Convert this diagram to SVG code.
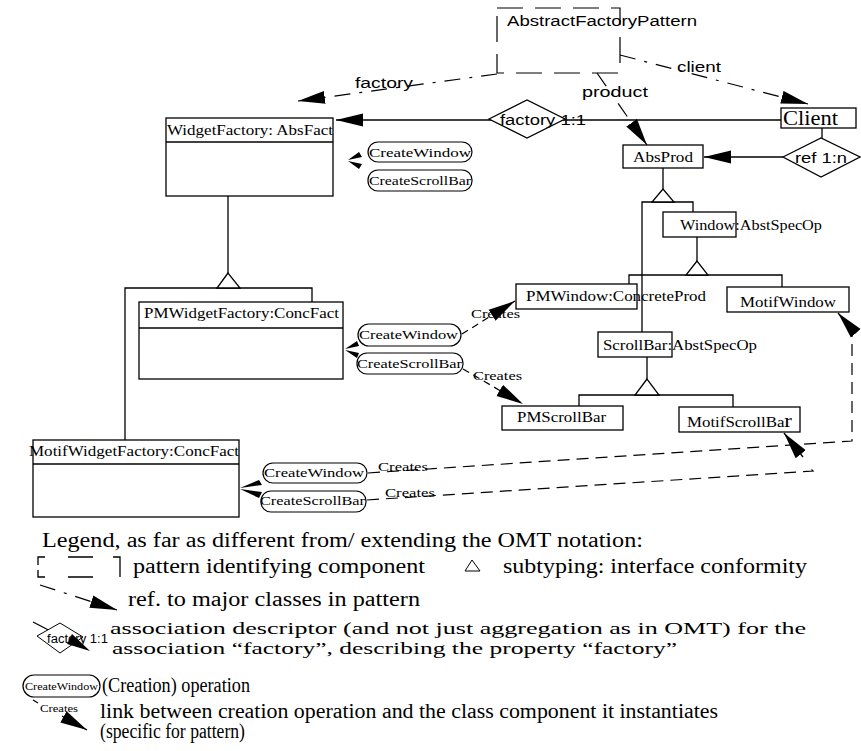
<svg xmlns="http://www.w3.org/2000/svg" width="861" height="751" viewBox="0 0 861 751">
<defs>
<marker id="ah" markerUnits="userSpaceOnUse" markerWidth="30" markerHeight="16" refX="27" refY="7" orient="auto"><path d="M0,0.5 L27,7 L0,13.5 z" fill="#000"/></marker>
</defs>
<style>
.bx{fill:#fff;stroke:#000;stroke-width:1.3}
.ln{fill:none;stroke:#000;stroke-width:1.3}
.tri{fill:#fff;stroke:#000;stroke-width:1.3}
.dd{fill:none;stroke:#000;stroke-width:1.2;stroke-dasharray:16 9 3 9}
.ds{fill:none;stroke:#000;stroke-width:1.2;stroke-dasharray:12 7}
.dsm{fill:none;stroke:#000;stroke-width:1.2;stroke-dasharray:7 5}
.pat{fill:none;stroke:#000;stroke-width:1.2;stroke-dasharray:26 12}
.op{fill:#fff;stroke:#000;stroke-width:1.2}
.sf{font-family:"Liberation Serif","Times New Roman",serif;fill:#000}
.ss{font-family:"Liberation Sans",Arial,sans-serif;fill:#000}
.t14{font-size:14px}
.t13{font-size:13px}
.t20{font-size:20px}
</style>
<rect width="861" height="751" fill="#fff"/>

<g id="connectors">
  <path class="dd" d="M497,74 L298,101" marker-end="url(#ah)"/>
  <path class="dd" d="M620,55 L808,104" marker-end="url(#ah)"/>
  <path class="dd" d="M597,73 L647,145" marker-end="url(#ah)"/>
  <path class="ln" d="M781,120 L336,120" marker-end="url(#ah)"/>
  <path class="ln" d="M822,128 L822,138"/>
  <path class="ln" d="M783,157 L704,157" marker-end="url(#ah)"/>
  <path class="ln" d="M228,196 L228,273 M125,440 L125,288 L312,288 L312,302"/>
  <polygon class="tri" points="228,273 217,288 240,288"/>
  <path class="ln" d="M663,168 L663,189 M642,332 L642,202 L693,202 L693,212"/>
  <polygon class="tri" points="663,189 652,202 674,202"/>
  <path class="ln" d="M697,237 L697,261 M629,284 L629,275 L782,275 L782,287"/>
  <polygon class="tri" points="697,261 686,275 708,275"/>
  <path class="ln" d="M647,357 L647,379 M579,406 L579,395 L733,395 L733,407"/>
  <polygon class="tri" points="647,379 635,395 659,395"/>
  <polygon points="348,160 359,152 362,157" fill="#000"/>
  <polygon points="348,161 362,164 359,169" fill="#000"/>
  <polygon points="345,349 357,341 359,346" fill="#000"/>
  <polygon points="345,350 359,353 357,358" fill="#000"/>
  <polygon points="240,488 259,480 262,485" fill="#000"/>
  <polygon points="240,489 262,492 259,498" fill="#000"/>
  <path class="dsm" d="M462,334 L515,301" marker-end="url(#ah)"/>
  <path class="dsm" d="M463,369 L523,404" marker-end="url(#ah)"/>
  <path class="ds" d="M368,473 L852,441 L852,329 L838,313" marker-end="url(#ah)"/>
  <path class="ds" d="M367,500 L813,471 L809,467"/>
  <path class="ln" d="M803,457 L784,433" marker-end="url(#ah)"/>
</g>

<g id="pattern">
  <rect class="pat" x="497" y="8" width="123" height="65"/>
  <text class="ss t14" x="507" y="26" textLength="190" lengthAdjust="spacingAndGlyphs">AbstractFactoryPattern</text>
  <text class="ss t14" x="355" y="88" textLength="58" lengthAdjust="spacingAndGlyphs">factory</text>
  <text class="ss t14" x="677" y="72" textLength="44" lengthAdjust="spacingAndGlyphs">client</text>
  <text class="ss t14" x="582" y="97" textLength="66" lengthAdjust="spacingAndGlyphs">product</text>
</g>

<g id="factory-assoc">
  <polygon points="489,119 527,100 565,119 527,138" fill="#fff" stroke="#000" stroke-width="1.3"/>
  <text class="ss t14" x="500" y="125" textLength="86" lengthAdjust="spacingAndGlyphs">factory 1:1</text>
</g>

<g id="client">
  <rect class="bx" x="781" y="108" width="75" height="20"/>
  <text class="sf t20" x="783" y="125" textLength="55" lengthAdjust="spacingAndGlyphs">Client</text>
</g>

<g id="ref-assoc">
  <polygon points="783,157 821,138 860,157 821,177" fill="#fff" stroke="#000" stroke-width="1.3"/>
  <text class="ss t14" x="795" y="163" textLength="52" lengthAdjust="spacingAndGlyphs">ref 1:n</text>
</g>

<g id="widgetfactory">
  <rect class="bx" x="166" y="118" width="167" height="78"/>
  <line class="ln" x1="166" y1="142" x2="333" y2="142"/>
  <text class="sf t14" x="167" y="135" textLength="166" lengthAdjust="spacingAndGlyphs">WidgetFactory: AbsFact</text>
</g>
<g id="wf-ops">
  <rect class="op" x="368" y="142" width="104" height="20" rx="10"/>
  <text class="sf t13" x="369" y="157" textLength="102" lengthAdjust="spacingAndGlyphs">CreateWindow</text>
  <rect class="op" x="368" y="170" width="104" height="21" rx="10"/>
  <text class="sf t13" x="369" y="185" textLength="102" lengthAdjust="spacingAndGlyphs">CreateScrollBar</text>
</g>

<g id="pmwidgetfactory">
  <rect class="bx" x="139" y="302" width="204" height="77"/>
  <line class="ln" x1="139" y1="328" x2="343" y2="328"/>
  <text class="sf t14" x="144" y="318" textLength="195" lengthAdjust="spacingAndGlyphs">PMWidgetFactory:ConcFact</text>
</g>
<g id="pm-ops">
  <rect class="op" x="358" y="324" width="103" height="22" rx="11"/>
  <text class="sf t13" x="359" y="339" textLength="99" lengthAdjust="spacingAndGlyphs">CreateWindow</text>
  <rect class="op" x="357" y="353" width="106" height="21" rx="10"/>
  <text class="sf t13" x="357" y="368" textLength="105" lengthAdjust="spacingAndGlyphs">CreateScrollBar</text>
  <text class="sf t13" x="471" y="318" textLength="49" lengthAdjust="spacingAndGlyphs">Creates</text>
  <text class="sf t13" x="473" y="380" textLength="49" lengthAdjust="spacingAndGlyphs">Creates</text>
</g>

<g id="motifwidgetfactory">
  <rect class="bx" x="33" y="440" width="206" height="77"/>
  <line class="ln" x1="33" y1="464" x2="239" y2="464"/>
  <text class="sf t14" x="29" y="456" textLength="210" lengthAdjust="spacingAndGlyphs">MotifWidgetFactory:ConcFact</text>
</g>
<g id="motif-ops">
  <rect class="op" x="263" y="463" width="104" height="20" rx="10"/>
  <text class="sf t13" x="264" y="477" textLength="100" lengthAdjust="spacingAndGlyphs">CreateWindow</text>
  <rect class="op" x="261" y="491" width="105" height="21" rx="10"/>
  <text class="sf t13" x="260" y="505" textLength="105" lengthAdjust="spacingAndGlyphs">CreateScrollBar</text>
  <text class="sf t13" x="378" y="471" textLength="50" lengthAdjust="spacingAndGlyphs">Creates</text>
  <text class="sf t13" x="385" y="497" textLength="50" lengthAdjust="spacingAndGlyphs">Creates</text>
</g>

<g id="absprod">
  <rect class="bx" x="623" y="145" width="80" height="23"/>
  <text class="sf t14" x="633" y="162" textLength="60" lengthAdjust="spacingAndGlyphs">AbsProd</text>
</g>
<g id="window">
  <rect class="bx" x="663" y="212" width="73" height="25"/>
  <text class="sf t14" x="680" y="230" textLength="142" lengthAdjust="spacingAndGlyphs">Window:AbstSpecOp</text>
</g>
<g id="pmwindow">
  <rect class="bx" x="516" y="284" width="121" height="25"/>
  <text class="sf t14" x="526" y="301" textLength="180" lengthAdjust="spacingAndGlyphs">PMWindow:ConcreteProd</text>
</g>
<g id="motifwindow">
  <rect class="bx" x="727" y="287" width="122" height="25"/>
  <text class="sf t14" x="740" y="307" textLength="96" lengthAdjust="spacingAndGlyphs">MotifWindow</text>
</g>
<g id="scrollbar">
  <rect class="bx" x="598" y="332" width="74" height="25"/>
  <text class="sf t14" x="603" y="350" textLength="154" lengthAdjust="spacingAndGlyphs">ScrollBar:AbstSpecOp</text>
</g>
<g id="pmscrollbar">
  <rect class="bx" x="502" y="406" width="121" height="24"/>
  <text class="sf t14" x="517" y="422" textLength="89" lengthAdjust="spacingAndGlyphs">PMScrollBar</text>
</g>
<g id="motifscrollbar">
  <rect class="bx" x="679" y="407" width="121" height="25"/>
  <text class="sf t14" x="687" y="427" textLength="105" lengthAdjust="spacingAndGlyphs">MotifScrollBa<tspan font-size="19">r</tspan></text>
</g>

<g id="legend">
  <text class="sf t20" x="42" y="547" textLength="601" lengthAdjust="spacingAndGlyphs">Legend, as far as different from/ extending the OMT notation:</text>
  <path class="ln" stroke-width="1" d="M45,557 H38 V565 M38,570 V577 H45 M68,557 H93 M68,577 H93 M113,557 H120 V577"/>
  <text class="sf t20" x="133" y="573" textLength="292" lengthAdjust="spacingAndGlyphs">pattern identifying component</text>
  <polygon points="472,560 465,571 480,571" fill="#fff" stroke="#000" stroke-width="1"/>
  <text class="sf t20" x="503" y="573" textLength="304" lengthAdjust="spacingAndGlyphs">subtyping: interface conformity</text>
  <path class="dd" d="M40,585 L117,610" marker-end="url(#ah)"/>
  <text class="sf t20" x="128" y="606" textLength="292" lengthAdjust="spacingAndGlyphs">ref. to major classes in pattern</text>
  <path class="ln" d="M33,622 L60,636"/>
  <polygon points="37,636 60,623 83,637 60,653" fill="#fff" stroke="#000" stroke-width="1"/>
  <text class="ss" font-size="12" x="47" y="643" textLength="61" lengthAdjust="spacingAndGlyphs">factory 1:1</text>
  <polygon points="90,651 67,644 72,634" fill="#000"/>
  <text class="sf" font-size="16.5" x="110" y="634" textLength="696" lengthAdjust="spacingAndGlyphs">association descriptor (and not just aggregation as in OMT) for the</text>
  <text class="sf" font-size="16.5" x="112" y="654" textLength="565" lengthAdjust="spacingAndGlyphs">association “factory”, describing the property “factory”</text>
  <rect class="op" x="23" y="675" width="77" height="22" rx="11"/>
  <text class="sf" font-size="11" x="25" y="690" textLength="73" lengthAdjust="spacingAndGlyphs">CreateWindow</text>
  <text class="sf t20" x="102" y="692" textLength="148" lengthAdjust="spacingAndGlyphs">(Creation) operation</text>
  <path class="ln" stroke-width="1" d="M33,700 L38,703"/>
  <text class="sf" font-size="11" x="40" y="712" textLength="38" lengthAdjust="spacingAndGlyphs">Creates</text>
  <path class="ln" d="M62,716 L87,730" marker-end="url(#ah)"/>
  <text class="sf t20" x="100" y="718" textLength="618" lengthAdjust="spacingAndGlyphs">link between creation operation and the class component it instantiates</text>
  <text class="sf t20" x="100" y="738" textLength="145" lengthAdjust="spacingAndGlyphs">(specific for pattern)</text>
</g>
</svg>
